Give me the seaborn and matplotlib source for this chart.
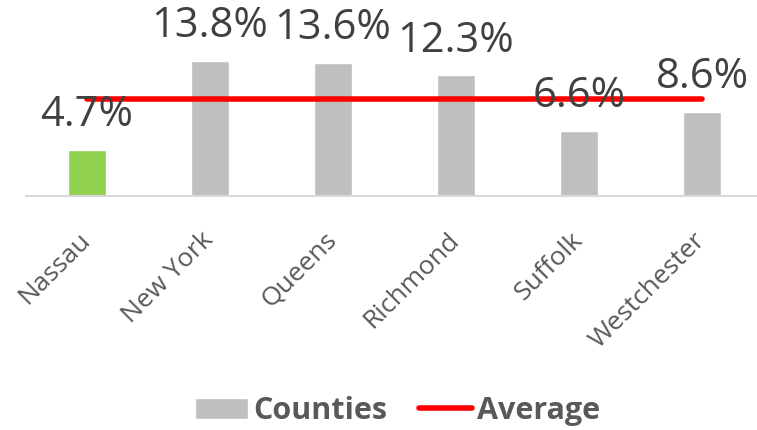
import numpy as np
import matplotlib
matplotlib.use("Agg")
import matplotlib.pyplot as plt
from matplotlib.patches import Patch
from matplotlib.lines import Line2D
import seaborn as sns

counties = ["Nassau", "New York", "Queens", "Richmond", "Suffolk", "Westchester"]
rates = [4.7, 13.8, 13.6, 12.3, 6.6, 8.6]
average = [9.9, 9.9, 9.9, 9.9, 9.9, 9.9]
bar_colors = ["#92D050", "#BFBFBF", "#BFBFBF", "#BFBFBF", "#BFBFBF", "#BFBFBF"]

sns.set_style("white")
plt.rcParams["font.family"] = ["Open Sans", "DejaVu Sans"]

fig = plt.figure(figsize=(7.57, 4.30), dpi=100)
ax = fig.add_axes([25.5 / 757, 234 / 430, 738 / 757, 196 / 430])

sns.barplot(x=counties, y=rates, hue=counties, palette=bar_colors,
            legend=False, width=0.31, saturation=1, ax=ax)
sns.lineplot(x=np.arange(len(counties)), y=average, color="#FF0000",
             linewidth=4, ax=ax)

ax.set_xlim(-0.5, 5.5)
ax.set_ylim(0, 20)
ax.set_yticks([])
ax.set_ylabel("")
for s in ["top", "right", "left"]:
    ax.spines[s].set_visible(False)
ax.spines["bottom"].set_color("#D9D9D9")
ax.spines["bottom"].set_linewidth(1.5)

for i, v in enumerate(rates):
    ax.annotate(f"{v}%", (i, v), xytext=(0, 10), textcoords="offset points",
                ha="center", va="bottom", fontsize=30, color="#404040")

ax.tick_params(axis="x", length=0, pad=29, labelsize=19, labelcolor="#595959")
for lab in ax.get_xticklabels():
    lab.set_rotation(45)
    lab.set_ha("right")
    lab.set_va("center")
    lab.set_rotation_mode("anchor")

# clipped title above the chart
fig.text(482 / 757, 1 + 9 / 430, "g", color="#FF0000", fontsize=26,
         fontweight="bold", ha="center", va="baseline")

handles = [Patch(facecolor="#BFBFBF", label="Counties"),
           Line2D([0], [0], color="#FF0000", linewidth=4, label="Average")]
fig.legend(handles=handles, loc="center", bbox_to_anchor=(0.525, 19 / 430),
           ncol=2, frameon=False, handlelength=1.75, handleheight=0.7,
           handletextpad=0.15, columnspacing=1.05,
           prop={"size": 22, "weight": "bold"}, labelcolor="#595959")

fig.savefig("out.png", dpi=100)
